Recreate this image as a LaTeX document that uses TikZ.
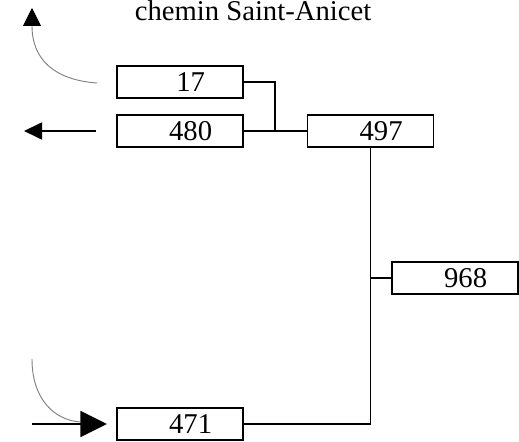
\documentclass[tikz,border=0pt]{standalone}
\usepackage{fontspec}
\setmainfont{Liberation Serif}
\usepackage{tikz}
\usetikzlibrary{arrows.meta, positioning, calc}
\tikzset{%
	lot/.style={draw, rectangle, line width=1.3pt, minimum width=94.5pt, minimum height=24pt,%
		inner sep=0pt, font=\fontsize{21.5}{24}\selectfont, execute at begin node={\hspace*{16pt}}},
	link/.style={line width=1.3pt},
	road/.style={line width=1.3pt},
	turn/.style={draw=gray, line width=0.7pt},
	title/.style={font=\fontsize{21.5}{24}\selectfont, anchor=base, inner sep=0pt}
}

\begin{document}
\begin{tikzpicture}[x=0.75pt, y=-0.75pt]
	\useasboundingbox (0,0) rectangle (519,442);
	\node[title] (chemin) at (253,21) {chemin Saint-Anicet};
	\node[lot] (l17)  at (180,82)    {17};
	\node[lot] (l480) at (180,131)   {480};
	\node[lot] (l497) at (370.5,131) {497};
	\node[lot] (l968) at (455,278)   {968};
	\node[lot] (l471) at (180,424)   {471};
	\coordinate (mid) at ($(l480.east)!0.5!(l497.west)$);
	\draw [link] (l17.east) -| (mid);
	\draw [link] (l480.east) to (l497.west);
	\draw [link] (l497.south) |- (l471.east);
	\draw [link] (l968.west) to (l968.west -| l497.south);
	% arrows on the left
	\coordinate (w-in)  at (96,131);
	\coordinate (w-out) at (24,131);
	\draw [road, -{Triangle[length=13.5pt, width=12.75pt]}] (w-in) to (w-out);
	\coordinate (n-in)  at (97,83);
	\coordinate (n-out) at (32,8);
	\draw [turn, -{Triangle[length=13.5pt, width=13.5pt, color=black]}] (n-in) .. controls (55,80) and (32,60) .. (n-out);
	\coordinate (s-in)   at (32,424);
	\coordinate (s-tip)  at (107,424);
	\coordinate (s-top)  at (32,359);
	\coordinate (s-base) at (80,422);
	\draw [road, -{Triangle[length=20pt, width=19.5pt]}] (s-in) to (s-tip);
	\draw [turn] (s-top) .. controls (32,400) and (55,420) .. (s-base);
\end{tikzpicture}
\end{document}
